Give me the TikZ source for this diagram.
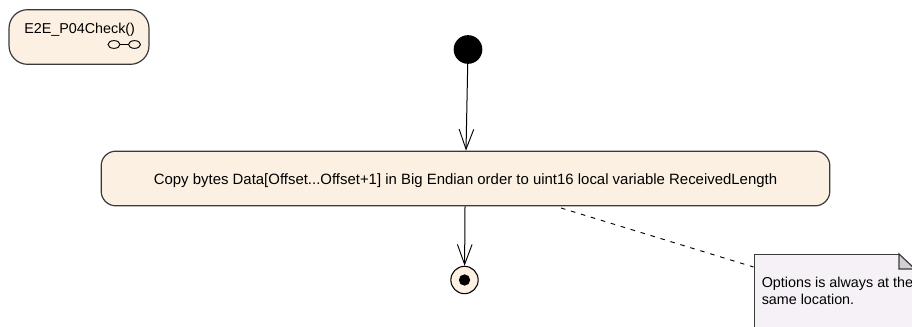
\documentclass[tikz,border=0pt]{standalone}
\usepackage{fontspec}
\setmainfont{Liberation Sans}
\usepackage{tikz}
\usetikzlibrary{arrows.meta, positioning, calc, shapes.geometric}
\definecolor{actfill}{HTML}{FBF0E2}
\definecolor{actline}{HTML}{3A3A3A}
\definecolor{notefill}{HTML}{F6F1F6}
\definecolor{foldfill}{HTML}{D3CFD6}

\begin{document}
\begin{tikzpicture}[x=0.75pt, y=-0.75pt, font=\fontsize{10.75pt}{12.75pt}\selectfont,
            action/.style={draw=actline, fill=actfill, line width=0.9pt, rounded corners=11pt, minimum height=41pt, align=center, inner sep=0pt},
            flow/.style={-{Straight Barb[length=15pt, width=11pt, line width=0.7pt]}, line width=0.75pt},
            rake/.style={draw, ellipse, line width=0.7pt, minimum width=9pt, minimum height=5.8pt, inner sep=0pt},
            notelink/.style={dash pattern=on 3.4pt off 4.4pt, line width=0.7pt},
            notebox/.style={draw=actline, fill=notefill, line width=0.9pt, anchor=north west, minimum width=135pt, minimum height=75pt, inner sep=0pt}]

            \useasboundingbox (0,0) rectangle (912,327);
            \clip (0,0) rectangle (912,327);

            % Activity frame label
            \node[action, minimum width=105pt, rounded corners=14pt] (frame) at (79,37) {};
            \node[anchor=base west, inner sep=0pt] (framelabel) at (24,33.5) {E2E\_P04Check()};
            \node[rake] (rakeleft) at (114,44.5) {};
            \node[rake] (rakeright) at (134.5,44.5) {};
            \draw[line width=0.7pt] (rakeleft) -- (rakeright);

            % Initial, action and final nodes
            \node[circle, fill=black, minimum size=21.5pt, inner sep=0pt] (start) at (468,49.5) {};
            \node[action, minimum width=546.5pt] (copy) at (465.5,178.5) {};
            \node[anchor=base, inner sep=0pt, font=\fontsize{11.2pt}{13pt}\selectfont] (copytext) at (465.5,185) {Copy bytes Data[Offset...Offset+1] in Big Endian order to uint16 local variable ReceivedLength};
            \node[circle, draw=black, fill=actfill, line width=0.8pt, minimum size=20.5pt, inner sep=0pt] (stop) at (464.5,280) {};
            \node[circle, fill=black, minimum size=8.5pt, inner sep=0pt] (stopdot) at (stop) {};

            % Control flow arrows
            \draw[flow] (start) -- (copy.north -| 466,0);
            \draw[flow] (copy.south -| 465,0) -- (stop);

            % Note
            \node[notebox] (note) at (753.5,254) {};
            \node[anchor=base west, inner sep=0pt, align=left] (notetext) at (761.5,304) {Options is always at the\\same location.};
            \fill[white] (899,253) -- (913,253) -- (913,268.5) -- cycle;
            \draw[actline, fill=foldfill, line width=0.9pt] (899,254) -- (899,269) -- (915,269) -- cycle;

            % Note connector
            \coordinate (linkstart) at (561,208);
            \coordinate (linkend) at (note.north west |- 0,267);
            \draw[notelink] (linkstart) -- (linkend);
\end{tikzpicture}
\end{document}
